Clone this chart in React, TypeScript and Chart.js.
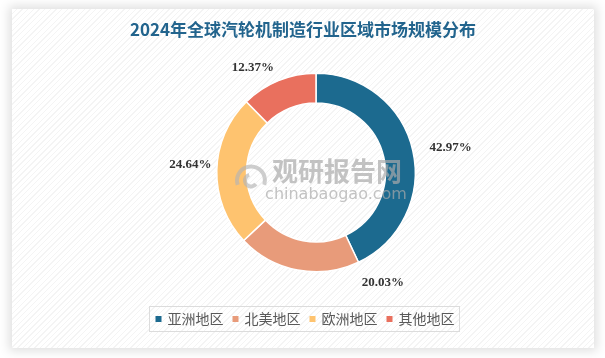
import React, { useEffect, useRef } from "react";
import { Chart, registerables } from "chart.js";

Chart.register(...registerables);

const title = "2024年全球汽轮机制造行业区域市场规模分布";
const categories = ["亚洲地区", "北美地区", "欧洲地区", "其他地区"];
const shares = [42.97, 20.03, 24.64, 12.37];
const colors = ["#1c6a8f", "#e89b7a", "#fec36f", "#e9705e"];
// label placement (style): angle shift (deg) from slice middle, distance from centre (px)
const labelAngleShift = [2.2, -42, 2.6, -8.9];
const labelDistance = [137, 129, 126, 122];

const decorPlugin = {
  id: "decor",
  afterDatasetsDraw(chart: any) {
    const ctx = chart.ctx;
    const meta = chart.getDatasetMeta(0);
    ctx.save();
    // watermark
    const a0 = meta.data[0];
    const cx = a0.x;
    const cy = a0.y;
    ctx.fillStyle = "rgba(170,170,170,0.7)";
    ctx.textAlign = "center";
    ctx.textBaseline = "middle";
    ctx.font = "bold 26px 'Noto Sans CJK SC'";
    ctx.fillText("观研报告网", cx + 21, cy - 1);
    ctx.font = "16px 'DejaVu Sans'";
    ctx.fillText("chinabaogao.com", cx + 20, cy + 22);
    ctx.strokeStyle = "rgba(180,180,180,0.65)";
    ctx.lineWidth = 4;
    ctx.beginPath();
    ctx.arc(cx - 65, cy + 8, 14, Math.PI * 0.9, Math.PI * 2.1);
    ctx.stroke();
    ctx.beginPath();
    ctx.arc(cx - 65, cy + 8, 6, Math.PI * 0.2, Math.PI * 1.4);
    ctx.stroke();

    // value labels
    ctx.fillStyle = "#333333";
    ctx.font = "bold 13px 'Liberation Serif'";
    meta.data.forEach((arc: any, i: number) => {
      const mid = (arc.startAngle + arc.endAngle) / 2 + (labelAngleShift[i] * Math.PI) / 180;
      const r = labelDistance[i];
      const x = arc.x + Math.cos(mid) * r;
      const y = arc.y + Math.sin(mid) * r;
      ctx.fillText(shares[i].toFixed(2) + "%", x, y);
    });

    // title
    ctx.fillStyle = "#22648d";
    ctx.font = "bold 17px 'Noto Sans CJK SC'";
    ctx.fillText(title, 303, 30);

    // legend
    ctx.font = "14px 'Noto Sans CJK SC'";
    ctx.textAlign = "left";
    const items = categories.map((c) => ctx.measureText(c).width);
    const sq = 6;
    const gapSq = 6;
    const gapItem = 9;
    let total = 0;
    items.forEach((w: number, i: number) => {
      total += sq + gapSq + w + (i < items.length - 1 ? gapItem : 0);
    });
    const ly = 319;
    let x = 305 - total / 2;
    ctx.strokeStyle = "#dcdcdc";
    ctx.lineWidth = 1;
    ctx.strokeRect(Math.round(x - 7) + 0.5, ly - 12.5, Math.round(total + 11), 25);
    categories.forEach((c, i) => {
      ctx.fillStyle = colors[i];
      ctx.fillRect(x, ly - sq / 2, sq, sq);
      x += sq + gapSq;
      ctx.fillStyle = "#595959";
      ctx.fillText(c, x, ly);
      x += items[i] + gapItem;
    });
    ctx.restore();
  },
};

export default function App() {
  const ref = useRef<HTMLCanvasElement>(null);
  useEffect(() => {
    document.body.style.margin = "0";
    const chart = new Chart(ref.current!, {
      type: "doughnut",
      data: {
        labels: categories,
        datasets: [
          {
            data: shares,
            backgroundColor: colors,
            borderColor: "#ffffff",
            borderWidth: 1.5,
          },
        ],
      },
      options: {
        animation: false,
        responsive: false,
        cutout: "70%",
        layout: { padding: { top: 72, bottom: 85, left: 216, right: 189 } },
        plugins: {
          legend: { display: false },
          title: { display: false },
          tooltip: { enabled: false },
        },
      },
      plugins: [decorPlugin],
    });
    return () => chart.destroy();
  }, []);
  return (
    <div style={{ position: "relative", width: 605, height: 358, background: "#ffffff", overflow: "hidden" }}>
      <div
        style={{
          position: "absolute",
          left: 12,
          top: 9,
          width: 582,
          height: 339,
          boxShadow: "0 0 10px 3px rgba(0,0,0,0.13)",
          background:
            "repeating-linear-gradient(135deg, #ffffff 0px, #ffffff 3px, #f4f4f4 3px, #f4f4f4 4px)",
        }}
      />
      <canvas ref={ref} width={605} height={358} style={{ position: "absolute", left: 0, top: 0 }} />
    </div>
  );
}
